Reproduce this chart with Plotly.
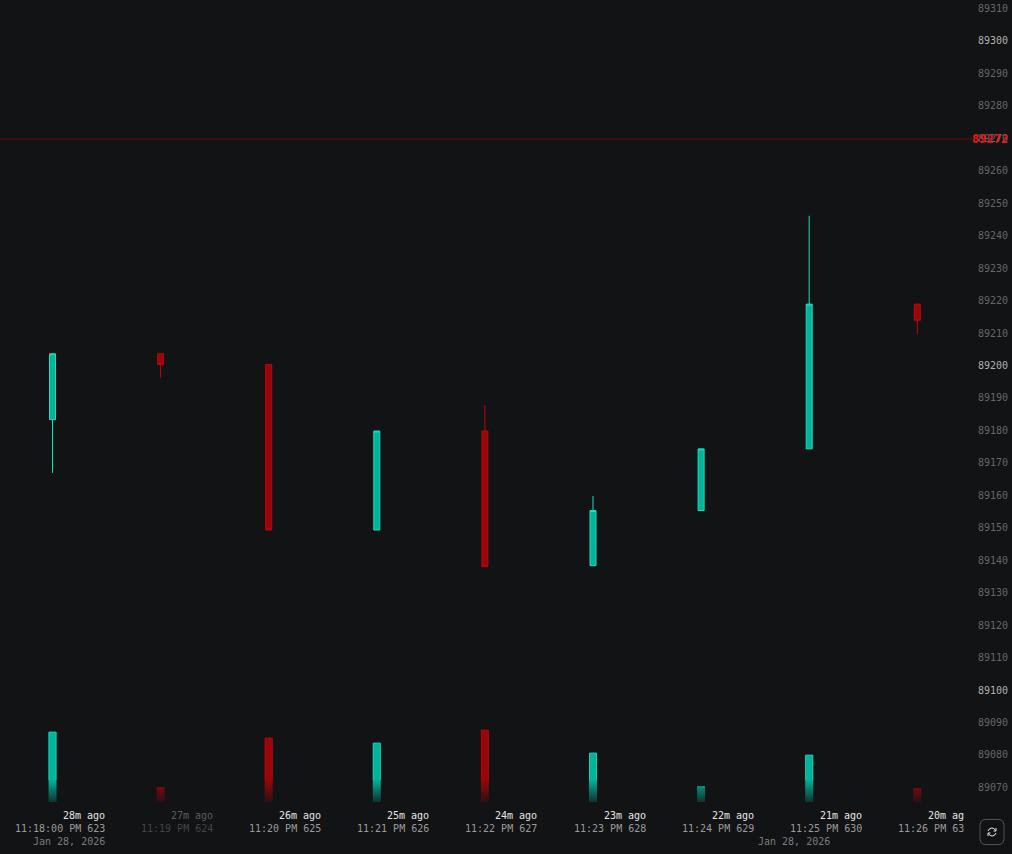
import plotly.graph_objects as go

W, H, PLOT_H = 1012, 854, 802
BG = "#121315"
GREEN, GREEN_EDGE = "#00b39b", "#1fdcbd"
RED, RED_EDGE = "#98060a", "#b8080c"
MONO = "DejaVu Sans Mono"

# candles
idx = list(range(9))
opens = [89183, 89203.3, 89200, 89149, 89179.5, 89138, 89155, 89174, 89218.6]
closes = [89203.3, 89200, 89149, 89179.5, 89137.7, 89155, 89174, 89218.6, 89213.6]
highs = [89203.3, 89203.3, 89200, 89179.5, 89187.5, 89159.5, 89174, 89245.8, 89218.6]
lows = [89166.6, 89195.8, 89149, 89149, 89137.7, 89138, 89155, 89174, 89209.4]
volumes = [70, 15, 64, 59, 72, 49, 16, 47, 14]
# the label says 89272 but the line sits just under the 89270 tick in the picture
last_price = 89272
last_price_level = 89269.5

ago = ["28m ago", "27m ago", "26m ago", "25m ago", "24m ago", "23m ago", "22m ago", "21m ago", "20m ag"]
times = ["11:18:00 PM 623", "11:19 PM 624", "11:20 PM 625", "11:21 PM 626", "11:22 PM 627",
         "11:23 PM 628", "11:24 PM 629", "11:25 PM 630", "11:26 PM 63"]
dates = ["Jan 28, 2026", "", "", "", "", "", "", "Jan 28, 2026", ""]
dim_col = 1

price_ticks = list(range(89070, 89320, 10))
major_ticks = [89100, 89200, 89300]
tick_text = [f'<span style="color:{"#b0b0b0" if t in major_ticks else "#666666"}">{t}</span>' for t in price_ticks]


def px_x(px):
    return px / W


def px_y(py):
    return (PLOT_H - py) / PLOT_H


fig = go.Figure()

# volume bars fade out near the floor, gradient is in axis units so short bars stay dim
half = 3.5 / 108.1
half_fill = 4 / 108.1
fade = 22
for i, v in enumerate(volumes):
    up = closes[i] >= opens[i]
    rgb = "0,179,155" if up else "152,6,10"
    edge = GREEN_EDGE if up else RED_EDGE
    fig.add_trace(go.Scatter(
        x=[i - half_fill, i + half_fill, i + half_fill, i - half_fill, i - half_fill],
        y=[0, 0, v, v, 0],
        yaxis="y2",
        mode="lines",
        line=dict(width=0),
        fill="toself",
        fillgradient=dict(
            type="vertical", start=0, stop=fade,
            colorscale=[[0, f"rgba({rgb},0.2)"], [1, f"rgba({rgb},1)"]],
        ),
        hoverinfo="skip",
        showlegend=False,
    ))
    if v > fade:
        fig.add_trace(go.Scatter(
            x=[i - half, i - half, i + half, i + half],
            y=[fade, v, v, fade],
            yaxis="y2",
            mode="lines",
            line=dict(width=1, color=edge),
            opacity=0.7,
            hoverinfo="skip",
            showlegend=False,
        ))

fig.add_trace(go.Candlestick(
    x=idx, open=opens, high=highs, low=lows, close=closes,
    whiskerwidth=0,
    increasing=dict(line=dict(color=GREEN_EDGE, width=1), fillcolor=GREEN),
    decreasing=dict(line=dict(color=RED_EDGE, width=1), fillcolor=RED),
    showlegend=False,
))

annotations = []
for i in idx:
    dim = i == dim_col
    right = 48.5 if i == 8 else 54.5
    rows = [(ago[i], "#5c5c5c" if dim else "#e6e6e6", 13, right),
            (times[i], "#444444" if dim else "#9a9a9a", 26, right),
            (dates[i], "#7c7c7c", 39, 22.5 if i == 7 else right)]
    for text, color, shift, xshift in rows:
        if text:
            annotations.append(dict(
                x=i, y=0, xref="x", yref="paper",
                text=text, showarrow=False,
                xanchor="right", yanchor="middle",
                xshift=xshift, yshift=-shift,
                font=dict(family=MONO, size=10, color=color),
            ))

annotations.append(dict(
    x=1, y=last_price_level, xref="paper", yref="y",
    text=f"<b>{last_price}</b>", showarrow=False,
    xanchor="right", yanchor="middle", xshift=-2,
    font=dict(family=MONO, size=12, color="#e8141a"),
))

x0, x1, y0, y1, r = 980, 1004, 819.5, 844.5, 6
button = (f"M{px_x(x0 + r)},{px_y(y0)} L{px_x(x1 - r)},{px_y(y0)} Q{px_x(x1)},{px_y(y0)} {px_x(x1)},{px_y(y0 + r)} "
          f"L{px_x(x1)},{px_y(y1 - r)} Q{px_x(x1)},{px_y(y1)} {px_x(x1 - r)},{px_y(y1)} "
          f"L{px_x(x0 + r)},{px_y(y1)} Q{px_x(x0)},{px_y(y1)} {px_x(x0)},{px_y(y1 - r)} "
          f"L{px_x(x0)},{px_y(y0 + r)} Q{px_x(x0)},{px_y(y0)} {px_x(x0 + r)},{px_y(y0)} Z")
cx, cy = 992, 832
arc_top = (f"M{px_x(cx - 4)},{px_y(cy - 1)} Q{px_x(cx - 3)},{px_y(cy - 4)} {px_x(cx)},{px_y(cy - 4)} "
           f"Q{px_x(cx + 2.5)},{px_y(cy - 4)} {px_x(cx + 3.5)},{px_y(cy - 1.5)} "
           f"M{px_x(cx + 4)},{px_y(cy - 4)} L{px_x(cx + 4)},{px_y(cy - 1)} L{px_x(cx + 1.5)},{px_y(cy - 1)}")
arc_bot = (f"M{px_x(cx + 4)},{px_y(cy + 1)} Q{px_x(cx + 3)},{px_y(cy + 4)} {px_x(cx)},{px_y(cy + 4)} "
           f"Q{px_x(cx - 2.5)},{px_y(cy + 4)} {px_x(cx - 3.5)},{px_y(cy + 1.5)} "
           f"M{px_x(cx - 4)},{px_y(cy + 4)} L{px_x(cx - 4)},{px_y(cy + 1)} L{px_x(cx - 1.5)},{px_y(cy + 1)}")

shapes = [
    dict(type="line", xref="paper", yref="y", x0=0, x1=975 / W, y0=last_price_level, y1=last_price_level,
         line=dict(color="#6e0b0f", width=1)),
    dict(type="path", xref="paper", yref="paper", path=button, line=dict(color="#555555", width=1)),
    dict(type="path", xref="paper", yref="paper", path=arc_top, line=dict(color="#e6e6e6", width=1)),
    dict(type="path", xref="paper", yref="paper", path=arc_bot, line=dict(color="#e6e6e6", width=1)),
]

fig.update_layout(
    width=W, height=H,
    margin=dict(l=0, r=0, t=0, b=H - PLOT_H, pad=0),
    paper_bgcolor=BG, plot_bgcolor=BG,
    boxgap=1 - 6 / 108.1, boxgroupgap=0,
    showlegend=False,
    annotations=annotations,
    shapes=shapes,
    xaxis=dict(
        range=[-52.5 / 108.1, (W - 52.5) / 108.1],
        visible=False, showgrid=False, zeroline=False,
        rangeslider=dict(visible=False),
    ),
    yaxis=dict(
        range=[89065.2, 89312.3],
        side="right", ticklabelposition="inside",
        tickvals=price_ticks, ticktext=tick_text,
        ticklabelshift=1, ticklabelstandoff=1,
        showgrid=False, zeroline=False, showline=False,
        ticks="", ticklen=0, tickfont=dict(family=MONO, size=10, color="#666666"),
    ),
    yaxis2=dict(
        range=[0, PLOT_H], overlaying="y", side="left",
        visible=False, showgrid=False, zeroline=False,
    ),
)

# page margin would push the fixed-size chart off by 8px, square corners on the candles
post = ("document.body.style.margin='0';document.body.style.background='" + BG + "';"
        "document.querySelectorAll('.boxlayer path').forEach(p=>p.style.strokeLinejoin='miter');")
fig.write_html("out.html", config=dict(displayModeBar=False), post_script=post)
